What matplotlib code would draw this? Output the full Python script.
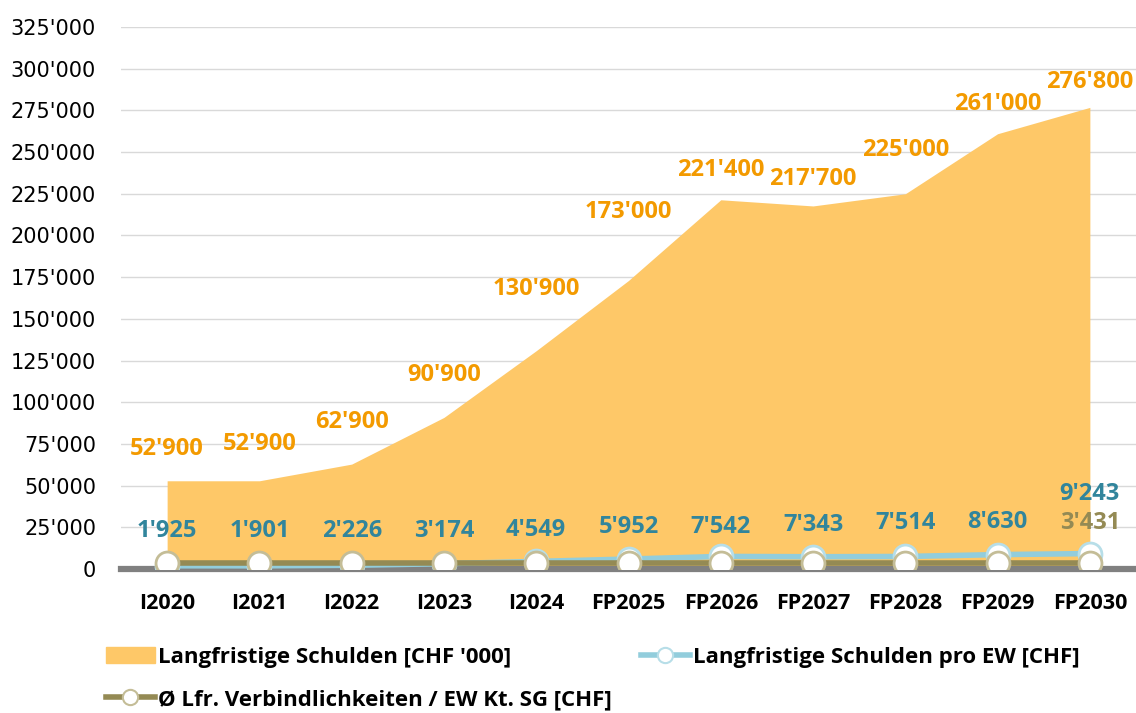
import matplotlib
matplotlib.use("Agg")
import matplotlib.pyplot as plt
from matplotlib.ticker import FuncFormatter, MultipleLocator
from matplotlib.lines import Line2D
from matplotlib.patches import Patch

categories = ["I2020", "I2021", "I2022", "I2023", "I2024", "FP2025", "FP2026",
              "FP2027", "FP2028", "FP2029", "FP2030"]
schulden = [52900, 52900, 62900, 90900, 130900, 173000, 221400, 217700, 225000, 261000, 276800]
pro_ew = [1925, 1901, 2226, 3174, 4549, 5952, 7542, 7343, 7514, 8630, 9243]
kt_sg = [3431] * 11

# label offsets (pixels above the point) - styling only
orange_off = [32, 37, 42, 42, 62, 68, 30, 27, 44, 30, 25]

FONT = "Open Sans"
ORANGE_AREA = "#FEC868"
ORANGE_TXT = "#F39A00"
BLUE_LINE = "#92CDDC"
BLUE_EDGE = "#B7DEE8"
BLUE_TXT = "#31859C"
OLIVE_LINE = "#948A54"
OLIVE_EDGE = "#C4BD97"

fig = plt.figure(figsize=(11.36, 7.13), dpi=100)
ax = fig.add_axes([121 / 1136, 1 - 569 / 713, 1 - 121 / 1136, (569 - 27) / 713])
x = list(range(len(categories)))

ax.fill_between(x, 0, schulden, color=ORANGE_AREA, lw=0, zorder=2)
ax.plot(x, pro_ew, color=BLUE_LINE, lw=4, marker="o", ms=16.5, mfc="white",
        mec=BLUE_EDGE, mew=2, zorder=4)
ax.plot(x, kt_sg, color=OLIVE_LINE, lw=4, marker="o", ms=16.5, mfc="white",
        mec=OLIVE_EDGE, mew=2, zorder=5)

ax.set_xlim(-0.5, 10.5)
ax.set_ylim(0, 325000)
ax.yaxis.set_major_locator(MultipleLocator(25000))
ax.yaxis.set_major_formatter(FuncFormatter(lambda v, p: f"{int(v):,}".replace(",", "'")))
ax.grid(axis="y", color="#D9D9D9", lw=1, zorder=0)
ax.set_axisbelow(True)
for s in ["top", "right", "left"]:
    ax.spines[s].set_visible(False)
ax.spines["bottom"].set_color("#808080")
ax.spines["bottom"].set_linewidth(4.5)
ax.spines["bottom"].set_zorder(3)
ax.set_xticks(x)
ax.set_xticklabels(categories, fontfamily=FONT, fontweight="bold", fontsize=15.5)
ax.tick_params(axis="x", length=0, pad=17)
ax.tick_params(axis="y", length=0, pad=18, labelsize=15, labelcolor="#000000")
for lab in ax.get_yticklabels():
    lab.set_fontfamily("DejaVu Sans")

for i, v in enumerate(schulden):
    ax.annotate(f"{v:,}".replace(",", "'"), (i, v), xytext=(0, orange_off[i]),
                textcoords="offset pixels", ha="center", va="center",
                color=ORANGE_TXT, fontfamily=FONT, fontweight="bold", fontsize=17, zorder=6)

blue_y = [531, 531, 531, 531, 530, 527, 527, 525, 523, 522, 494]
for i, v in enumerate(pro_ew):
    yp = 569 - v / 325000 * 542
    ax.annotate(f"{v:,}".replace(",", "'"), (i, v), xytext=(0, yp - blue_y[i]),
                textcoords="offset pixels", ha="center", va="center",
                color=BLUE_TXT, fontfamily=FONT, fontweight="bold", fontsize=17, zorder=6)
yp = 569 - kt_sg[-1] / 325000 * 542
ax.annotate(f"{kt_sg[-1]:,}".replace(",", "'"), (10, kt_sg[-1]), xytext=(0, yp - 523),
            textcoords="offset pixels", ha="center", va="center",
            color=OLIVE_LINE, fontfamily=FONT, fontweight="bold", fontsize=17, zorder=6)

handles = [
    Patch(color=ORANGE_AREA),
    Line2D([], [], color=OLIVE_LINE, lw=4, marker="o", ms=11, mfc="white", mec=OLIVE_EDGE, mew=1.5),
    Line2D([], [], color=BLUE_LINE, lw=4, marker="o", ms=11, mfc="white", mec=BLUE_EDGE, mew=1.5),
]
labels = ["Langfristige Schulden [CHF '000]", "Ø Lfr. Verbindlichkeiten / EW Kt. SG [CHF]",
          "Langfristige Schulden pro EW [CHF]"]
fig.legend(handles, labels, ncol=2, loc="upper left", bbox_to_anchor=(106 / 1136, 1 - 647 / 713),
           frameon=False, prop={"family": FONT, "weight": "bold", "size": 16},
           handlelength=2.2, handletextpad=0.15, columnspacing=1.3, labelspacing=0.95,
           borderpad=0, borderaxespad=0)

fig.savefig("out.png", dpi=100)
